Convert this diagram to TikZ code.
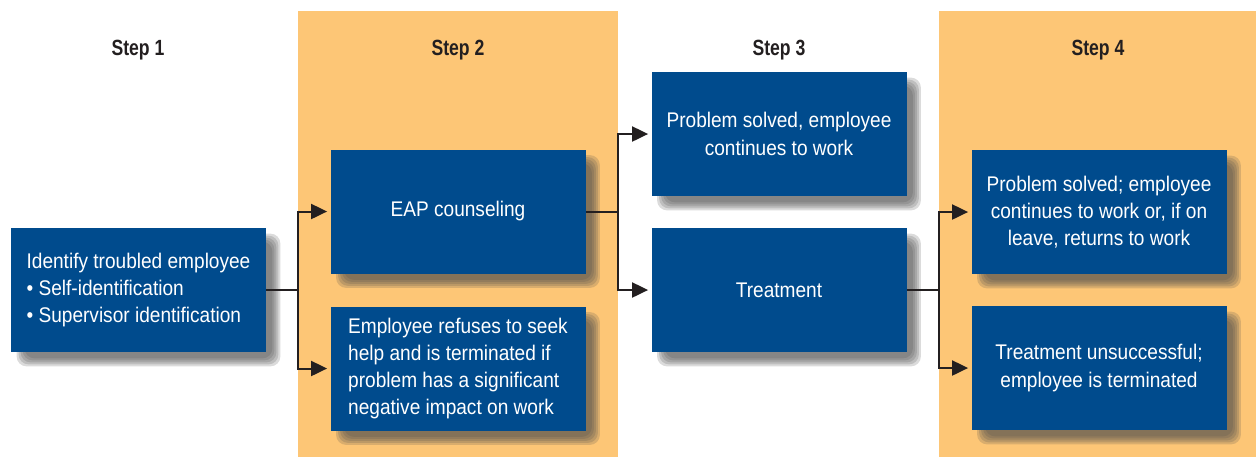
\documentclass[tikz,border=0pt]{standalone}
\usepackage{fontspec}
\setmainfont{Liberation Sans}[FakeStretch=0.9]
\newfontfamily\stepfont{Liberation Sans}[FakeStretch=0.8]
\usetikzlibrary{arrows.meta,calc}
\pgfdeclarelayer{back}
\pgfsetlayers{back,main}
\definecolor{eapblue}{HTML}{004B8D}
\definecolor{eaporange}{HTML}{FDC676}
\definecolor{eapdark}{HTML}{231F20}
\tikzset{
    every node/.style={font=\fontsize{10.6}{13.6}\selectfont},
    stepbox/.style={fill=eapblue,text=white,minimum width=127.5pt,minimum height=62pt,inner sep=4pt,align=center},
    steplabel/.style={text=eapdark,font=\stepfont\bfseries\fontsize{11}{13}\selectfont},
    panel/.style={fill=eaporange,draw=none},
    softshade/.style={fill=black!70,fill opacity=0.2,rounded corners=5pt},
    link/.style={draw=eapdark,line width=1pt},
    linkarrow/.style={link,-{Triangle[length=8pt,width=7.5pt]},shorten >=1.5pt}
}
\begin{document}
\begin{tikzpicture}[x=0.5pt,y=-0.5pt]
\useasboundingbox (0,0) rectangle (1256,457);
% step panels
\begin{pgfonlayer}{back}
\fill[panel] (298,11) rectangle (618,457);
\fill[panel] (939,11) rectangle (1256,457);
\end{pgfonlayer}
\node[steplabel] (s1) at (138,50) {Step 1};
\node[steplabel] (s2) at (458,50) {Step 2};
\node[steplabel] (s3) at (779,50) {Step 3};
\node[steplabel] (s4) at (1098,50) {Step 4};
% boxes
\node[stepbox,align=left] (ident) at (138.5,290) {Identify troubled employee\\\textbullet\ Self-identification\\\textbullet\ Supervisor identification};
\node[stepbox] (eap) at (458,211.5) {EAP counseling};
\node[stepbox,align=left] (refuse) at (458,368.5) {Employee refuses to seek\\help and is terminated if\\problem has a significant\\negative impact on work};
\node[stepbox] (solved) at (779,134) {Problem solved, employee\\continues to work};
\node[stepbox] (treat) at (779,290) {Treatment};
\node[stepbox] (back) at (1099,212) {Problem solved; employee\\continues to work or, if on\\leave, returns to work};
\node[stepbox] (fired) at (1099,368) {Treatment unsuccessful;\\employee is terminated};
% soft shadows behind the boxes
\begin{pgfonlayer}{back}
\foreach \n in {ident,eap,refuse,solved,treat,back,fired}
  \foreach \k in {-4,-2,0,2,4}
    \fill[softshade] ($(\n.north west)+(10+\k,10+\k)$) rectangle ($(\n.south east)+(10-\k,10-\k)$);
\end{pgfonlayer}
% connectors
\draw[link] (ident.east) -- (298,290) coordinate (j1);
\draw[linkarrow] (j1) |- (eap.west);
\draw[linkarrow] (j1) |- (refuse.west);
\draw[link] (eap.east) -- (618,211.5) coordinate (j2);
\draw[linkarrow] (j2) |- (solved.west);
\draw[linkarrow] (j2) |- (treat.west);
\draw[link] (treat.east) -- (939,290) coordinate (j3);
\draw[linkarrow] (j3) |- (back.west);
\draw[linkarrow] (j3) |- (fired.west);
\end{tikzpicture}
\end{document}
